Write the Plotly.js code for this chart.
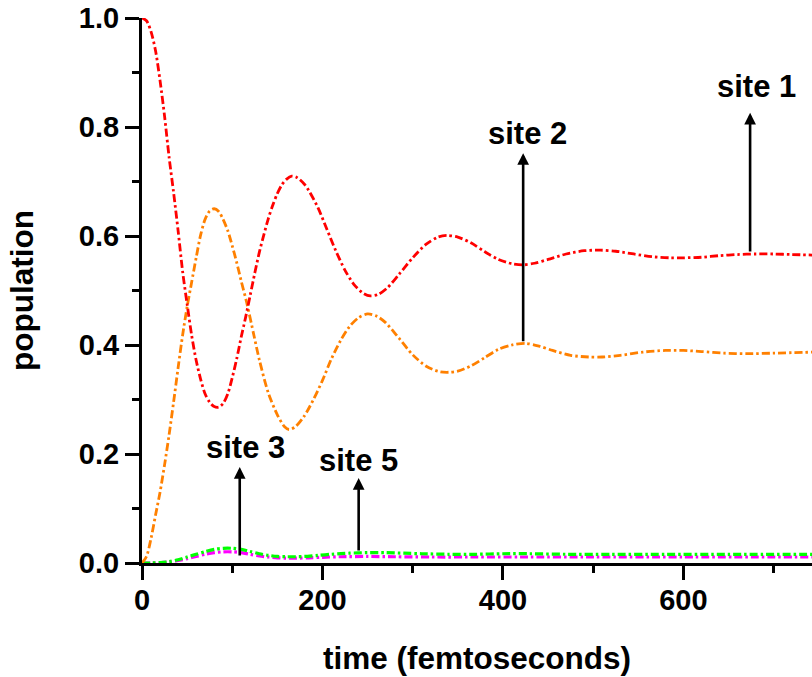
<!DOCTYPE html>
<html>
<head>
<meta charset="utf-8">
<script src="https://cdn.plot.ly/plotly-3.0.1.min.js"></script>
<style>html,body{margin:0;padding:0;background:#fff;}#chart{width:812px;height:677px;}</style>
</head>
<body>
<div id="chart"></div>
<script>
// ---- data ----
const tSite1 = [0,5,10,15,20,25,30,35,40,45,50,55,60,65,70,75,80,85,90,95,100,105,110,115,120,125,130,135,140,145,150,155,160,166,172,180,185,195,205,215,225,235,245,253,262,272,285,300,315,328,338,350,365,380,395,410,422,435,450,470,490,508,525,545,565,585,600,620,640,660,680,700,720,745];
const site1  = [1.0,0.995,0.975,0.94,0.885,0.82,0.745,0.68,0.61,0.535,0.475,0.418,0.372,0.337,0.31,0.295,0.287,0.286,0.293,0.31,0.34,0.375,0.415,0.452,0.492,0.532,0.57,0.602,0.632,0.657,0.678,0.694,0.704,0.71,0.707,0.695,0.683,0.652,0.612,0.572,0.537,0.511,0.495,0.49,0.493,0.505,0.53,0.56,0.585,0.598,0.601,0.598,0.587,0.571,0.557,0.549,0.547,0.55,0.557,0.567,0.573,0.574,0.572,0.567,0.562,0.56,0.56,0.561,0.564,0.566,0.567,0.567,0.566,0.565];

const tSite2 = [0,5,10,15,20,25,30,35,40,45,50,55,60,65,70,75,80,85,90,95,100,105,110,116,124,130,140,150,158,163,170,180,190,200,210,220,230,240,250,260,270,285,300,315,330,340,350,365,380,395,410,425,440,455,475,495,510,530,555,580,600,620,645,670,700,745];
const site2  = [0,0.012,0.045,0.088,0.13,0.18,0.235,0.295,0.358,0.418,0.47,0.515,0.56,0.602,0.631,0.646,0.65,0.645,0.63,0.61,0.582,0.551,0.517,0.478,0.418,0.373,0.312,0.272,0.25,0.245,0.25,0.27,0.3,0.335,0.375,0.408,0.434,0.45,0.457,0.453,0.441,0.412,0.382,0.361,0.351,0.35,0.352,0.362,0.377,0.392,0.4,0.403,0.398,0.39,0.381,0.378,0.378,0.381,0.387,0.39,0.39,0.388,0.385,0.384,0.385,0.387];

const tSite3 = [0,10,20,30,40,50,60,70,80,90,100,110,120,130,140,150,160,170,180,195,210,230,250,270,290,310,340,370,400,430,470,520,580,650,745];
const site3  = [0,0,0.0007,0.0025,0.006,0.011,0.016,0.021,0.025,0.027,0.027,0.025,0.021,0.017,0.014,0.012,0.0115,0.0115,0.012,0.014,0.016,0.018,0.019,0.019,0.018,0.017,0.016,0.016,0.017,0.017,0.016,0.016,0.016,0.016,0.016];

const tSite5 = [0,10,20,30,40,50,60,70,80,90,100,110,120,130,140,150,160,170,185,200,220,250,280,320,370,420,500,600,745];
const site5  = [0,0,0.0005,0.002,0.0045,0.008,0.012,0.016,0.019,0.0205,0.0205,0.019,0.016,0.013,0.011,0.0095,0.009,0.009,0.0095,0.0105,0.0115,0.012,0.0115,0.011,0.011,0.011,0.011,0.011,0.011];

const xTickVals = [0,200,400,600];
const yTickVals = [0,0.2,0.4,0.6,0.8,1.0];

// ---- chart ----
const font = {family: 'Liberation Sans, Arial, sans-serif', color: '#000', weight: 'bold'};
const dash = '8px,3px,2.5px,3px';
function line(x, y, color, name, w) {
  return {x: x, y: y, type: 'scatter', mode: 'lines', name: name,
    line: {color: color, width: w, dash: dash, shape: 'spline', smoothing: 0.8},
    hoverinfo: 'x+y+name'};
}
const traces = [
  line(tSite5, site5, '#ff00ff', 'site 5', 3.2),
  line(tSite3, site3, '#00ff00', 'site 3', 3.2),
  line(tSite2, site2, '#ff8000', 'site 2', 2.8),
  line(tSite1, site1, '#ff0000', 'site 1', 2.8)
];

function arrow(x, yTip, yTail) {
  return {x: x, y: yTip, ax: x, ay: yTail, xref: 'x', yref: 'y', axref: 'x', ayref: 'y',
    text: '', showarrow: true, arrowhead: 2, arrowsize: 0.9, arrowwidth: 2.6, arrowcolor: '#000',
    standoff: 0, startstandoff: 0};
}
function label(x, y, text) {
  return {x: x, y: y, xref: 'x', yref: 'y', text: text, showarrow: false,
    xanchor: 'center', yanchor: 'middle', font: Object.assign({size: 31}, font)};
}

const layout = {
  width: 812, height: 677,
  margin: {l: 142, r: 0, t: 18, b: 114, pad: 0},
  paper_bgcolor: '#fff', plot_bgcolor: '#fff',
  showlegend: false,
  font: Object.assign({size: 29}, font),
  xaxis: {
    range: [0, 742.5], showgrid: false, zeroline: false,
    showline: true, linecolor: '#000', linewidth: 3,
    ticks: 'outside', ticklen: 14, tickwidth: 3, tickcolor: '#000',
    tickvals: xTickVals, ticktext: xTickVals.map(String),
    tickfont: Object.assign({size: 29}, font), ticklabelstandoff: -5,
    minor: {dtick: 100, tick0: 0, ticks: 'outside', ticklen: 7, tickwidth: 3, tickcolor: '#000', showgrid: false},
    title: {text: 'time (femtoseconds)', font: Object.assign({size: 31.5}, font), standoff: 33}
  },
  yaxis: {
    range: [0, 1.0], showgrid: false, zeroline: false,
    showline: true, linecolor: '#000', linewidth: 3,
    ticks: 'outside', ticklen: 14, tickwidth: 3, tickcolor: '#000',
    tickvals: yTickVals, ticktext: yTickVals.map(v => v.toFixed(1)),
    tickfont: Object.assign({size: 29}, font),
    minor: {dtick: 0.1, tick0: 0, ticks: 'outside', ticklen: 7, tickwidth: 3, tickcolor: '#000', showgrid: false},
    title: {text: 'population', font: Object.assign({size: 31.5}, font), standoff: 36}
  },
  annotations: [
    arrow(673.9, 0.826, 0.569),
    arrow(422.4, 0.752, 0.404),
    arrow(108.3, 0.176, 0.011),
    arrow(240.1, 0.156, 0.020),
    label(680.6, 0.875, 'site 1'),
    label(426.9, 0.789, 'site 2'),
    label(114.6, 0.212, 'site 3'),
    label(239.8, 0.188, 'site 5')
  ]
};

Plotly.newPlot('chart', traces, layout, {displayModeBar: false, staticPlot: true});
</script>
</body>
</html>
